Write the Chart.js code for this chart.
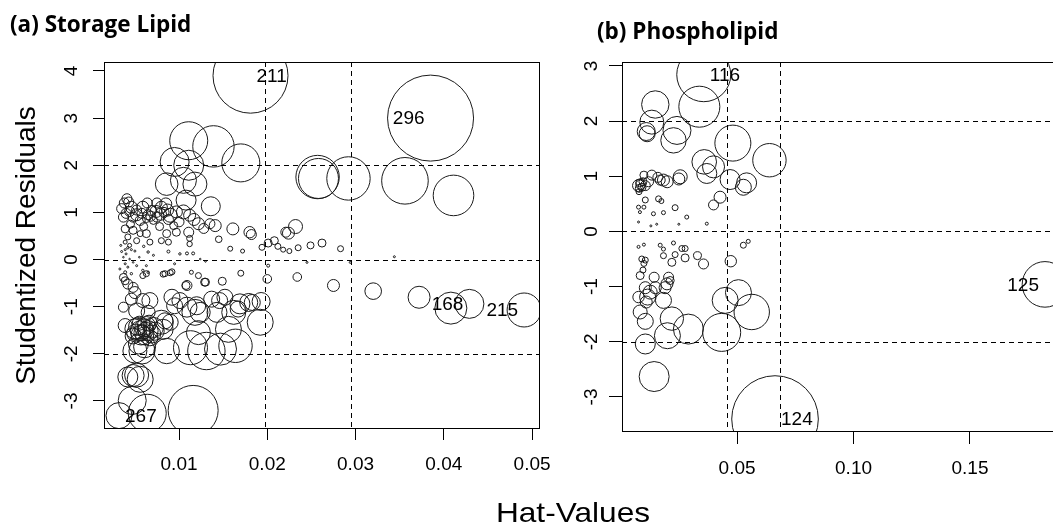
<!DOCTYPE html>
<html>
<head>
<meta charset="utf-8">
<script src="https://cdn.jsdelivr.net/npm/chart.js@4.4.1/dist/chart.umd.min.js"></script>
<style>
  body { margin: 0; width: 1053px; height: 524px; overflow: hidden; background: #fff; position: relative; }
  canvas { position: absolute; top: 0; }
  .panel-title { position: absolute; font: bold 22.5px 'Open Sans', Lato, sans-serif; line-height: 22.5px; color: #000; white-space: nowrap; }
  #xtitle { position: absolute; left: 573px; top: 499px; transform: translateX(-50%) scaleX(1.13); font: 28px 'Liberation Sans', Arial, sans-serif; line-height: 28px; color: #000; white-space: nowrap; }
</style>
</head>
<body>
<canvas id="chartA" width="560" height="524" style="left:0"></canvas>
<canvas id="chartB" width="505" height="524" style="left:550px"></canvas>
<div class="panel-title" style="left:10px; top:13px">(a) Storage Lipid</div>
<div class="panel-title" style="left:597px; top:20px">(b) Phospholipid</div>
<div id="xtitle">Hat-Values</div>
<script>
// (a) Storage Lipid: hat-values, studentized residuals, bubble radius (Cook's D)
const hatA = [
  0.0181,0.0385,0.0429,0.0491,0.0032,0.0408,0.0372,0.0320,0.0275,0.0234,
  0.0200,0.0411,0.0356,0.0292,0.0258,0.0257,0.0111,0.0139,0.0170,0.0095,
  0.0111,0.0086,0.0105,0.0118,0.0108,0.0136,0.0161,0.0180,0.0182,0.0232,
  0.0224,0.0221,0.0208,0.0201,0.0194,0.0212,0.0218,0.0225,0.0235,0.0249,
  0.0262,0.0283,0.0172,0.0158,0.0145,0.0112,0.0344,0.0294,0.0245,0.0201,
  0.0193,0.0192,0.0170,0.0149,0.0129,0.0122,0.0108,0.0114,0.0064,0.0047,
  0.0116,0.0042,0.0048,0.0056,0.0052,0.0058,0.0086,0.0113,0.0131,0.0147,
  0.0164,0.0122,0.0156,0.0162,0.0118,0.0146,0.0152,0.0169,0.0183,0.0092,
  0.0095,0.0109,0.0084,0.0082,0.0039,0.0052,0.0067,0.0065,0.0037,0.0050,
  0.0056,0.0065,0.0071,0.0061,0.0067,0.0054,0.0080,0.0090,0.0101,0.0120,
  0.0124,0.0143,0.0167,0.0179,0.0137,0.0109,0.0130,0.0037,0.0039,0.0042,
  0.0048,0.0059,0.0063,0.0082,0.0090,0.0050,0.0046,0.0059,0.0060,0.0058,
  0.0063,0.0069,0.0055,0.0048,0.0050,0.0061,0.0041,0.0043,0.0035,0.0046,
  0.0059,0.0069,0.0080,0.0083,0.0090,0.0097,0.0105,0.0112,0.0122,0.0135,
  0.0141,0.0128,0.0111,0.0097,0.0086,0.0088,0.0080,0.0112,0.0037,0.0048,
  0.0056,0.0063,0.0071,0.0039,0.0048,0.0056,0.0063,0.0042,0.0052,0.0067,
  0.0039,0.0044,0.0052,0.0065,0.0075,0.0088,0.0100,0.0117,0.0078,0.0060,
  0.0045,0.0094,0.0085,0.0075,0.0064,0.0035,0.0039,0.0042,0.0046,0.0050,
  0.0040,0.0037,0.0044,0.0048,0.0039,0.0042,0.0052,0.0065,0.0071,0.0088,
  0.0101,0.0109,0.0116,0.0124,0.0130,0.0095,0.0063,0.0059,0.0065,0.0084,
  0.0092,0.0039,0.0033,0.0046,0.0055,0.0060,0.0034,0.0053,0.0057,0.0062,
  0.0066,0.0073,0.0051,0.0038,0.0044,0.0040,0.0052,0.0058,0.0068,0.0074,
  0.0079,0.0087
];
const residA = [
  3.90,3.00,-0.94,-1.07,-3.31,-1.03,-0.80,-0.67,-0.55,-0.37,
  -0.41,1.36,1.67,1.72,1.72,1.75,2.52,2.40,2.05,2.07,
  2.00,1.60,1.68,1.60,1.26,1.13,0.65,0.58,0.53,0.70,
  0.56,0.58,0.40,0.35,0.26,0.28,0.21,0.18,0.25,0.30,
  0.35,0.23,0.18,0.23,0.43,0.33,0.06,-0.06,-0.06,-0.13,
  -0.89,-1.33,-0.29,-0.46,-0.48,-0.34,-0.55,-0.27,-3.26,-2.99,
  -3.20,-2.49,-2.46,-2.54,-2.45,-1.94,-1.94,-1.87,-1.94,-1.90,
  -1.83,-1.55,-1.48,-1.12,-1.12,-0.87,-0.80,-0.94,-0.91,-0.80,
  -0.98,-1.01,-1.30,-1.48,-1.40,-1.09,-0.87,-1.12,-1.01,-1.47,
  -1.51,-1.51,-1.44,-1.62,-1.66,-1.79,-1.33,-1.33,-0.87,-0.98,
  -1.12,-1.12,-1.05,-0.91,-0.84,-0.55,-0.48,-0.38,-0.45,-0.52,
  -0.59,-0.34,-0.30,-0.31,-0.28,-0.70,-0.84,-0.87,-1.45,-1.55,
  -1.40,-1.58,-1.35,-1.62,-1.94,-1.85,1.29,1.22,1.08,1.11,
  1.11,1.04,1.11,1.00,0.94,1.01,1.01,0.94,0.76,0.76,
  0.72,0.66,0.58,0.58,0.55,0.37,0.40,0.45,0.90,0.90,
  0.83,0.87,0.83,0.65,0.62,0.55,0.55,0.48,0.40,0.37,
  0.37,0.30,0.95,0.95,0.90,0.85,0.80,0.85,0.70,0.70,
  0.75,0.72,1.18,1.20,1.20,0.17,0.21,0.25,0.21,0.18,
  0.12,0.05,0.01,-0.06,-0.09,-0.16,-0.13,0.16,0.09,0.17,
  0.12,0.13,0.13,0.01,-0.04,-0.09,-0.13,-0.23,-0.27,-0.30,
  -0.26,-0.27,-0.20,-0.30,0.05,0.28,0.30,-1.42,-1.60,-1.50,
  -1.35,-1.52,-1.56,1.20,1.02,0.98,1.05,0.98,0.92,1.02,
  0.96,1.05
];
const sizeA = [
  37.5,43,14.5,17,13,16,11,8.3,6,4.3,
  4.3,20.3,23.3,21.7,20,21.7,19,20.7,19,14.5,
  15,11.3,13,12,10,9.5,6,5.7,5,7,
  6,5,4,4,3,3,2.5,2.5,3,3.5,
  4,3,2,2.5,3.3,2.7,1,1,1,1.5,
  9,13,3,4,4,3,4,2,19,14,
  25,10,11,13,12,13,12.7,17,18.7,16,
  16.7,12,13,12,13,8,8,10,8,8,
  8,10,8,10,7,8,8,7,5,10,
  10,10,10,9,8,10,12,8,8,9,
  10,10,8,9,8,5,4,4,4,5,
  5,3,3,3,3,6,6,7,9,8,
  9,9,7,8,12,11,5,5,5,6,
  6,5,6,5,7,6,7,6,6,5,
  6,5,5,4,4,3,3,3,5,5,
  5,4,4,4,4,3,4,3,3,3,
  2,2,6,5,5,5,5,6,4,4,
  4,4,6,5,5,1,1,1.2,1,1,
  1,0.8,0.8,0.8,1,1,1,1.2,1,1.5,
  1.2,1.5,1.5,0.8,0.8,1,1,1.2,1.2,3,
  3,1.5,1,1.2,0.8,1.2,1,9,10,8,
  8,9,9,5,5,5,5,5,5,6,
  6,6
];
const idsA = ['211', '296', '168', '215', '267']; // labels of the first points
const refHatA = [0.0197, 0.0295];
const refResid = [-2, 0, 2];
const xTicksA = [0.01, 0.02, 0.03, 0.04, 0.05];
const xTickLabelsA = ['0.01', '0.02', '0.03', '0.04', '0.05'];
const yTicksA = [-3, -2, -1, 0, 1, 2, 3, 4];

// (b) Phospholipid
const hatB = [
  0.0357,0.0663,0.1822,0.0338,0.0149,0.0134,0.0110,0.0114,0.0242,0.0227,
  0.0482,0.0639,0.0359,0.0399,0.0370,0.0470,0.0541,0.0527,0.0427,0.0399,
  0.0256,0.0250,0.0184,0.0170,0.0134,0.0100,0.0077,0.0087,0.0106,0.0160,
  0.0120,0.0080,0.0200,0.0106,0.0163,0.0175,0.0077,0.0100,0.0141,0.0184,
  0.0234,0.0284,0.0370,0.0250,0.0077,0.0130,0.0155,0.0083,0.0077,0.0100,
  0.0170,0.0184,0.0227,0.0263,0.0277,0.0277,0.0184,0.0234,0.0220,0.0330,
  0.0356,0.0473,0.0527,0.0548,0.0091,0.0106,0.0100,0.0084,0.0096,0.0144,
  0.0206,0.0213,0.0199,0.0191,0.0149,0.0106,0.0127,0.0077,0.0116,0.0110,
  0.0184,0.0084,0.0106,0.0106,0.0144,0.0220,0.0201,0.0291,0.0434,0.0449,
  0.0506,0.0563,0.0082,0.0092,0.0096,0.0079
];
const residB = [
  2.84,-3.40,-0.96,2.26,2.30,1.98,1.81,1.77,1.83,1.65,
  1.60,1.29,1.26,1.17,1.05,0.94,0.88,0.80,0.62,0.48,
  0.99,0.95,0.93,0.93,1.02,1.02,0.83,0.85,0.83,0.98,
  0.90,0.78,0.90,0.57,0.59,0.55,0.44,0.44,0.32,0.34,
  0.43,0.26,0.14,0.13,0.17,0.10,0.13,0.35,-0.28,-0.24,
  -0.25,-0.32,-0.21,-0.31,-0.31,-0.48,-0.44,-0.42,-0.56,-0.44,
  -0.59,-0.54,-0.25,-0.18,-0.50,-0.52,-0.58,-0.80,-0.70,-0.83,
  -0.83,-0.89,-0.95,-1.02,-1.02,-1.02,-1.10,-1.19,-1.19,-1.28,
  -1.25,-1.46,-1.63,-2.04,-2.63,-1.58,-1.89,-1.77,-1.83,-1.25,
  -1.11,-1.46,0.88,0.80,0.90,0.72
];
const sizeB = [
  27,43.3,22.8,20.5,13.7,12,9,8,14,12.7,
  18,16.7,12.3,11,10,10,10,8,6,5,
  7,6,6,5,5,4,6,5,5,5,
  5,4,6,3,3,2.5,2,2,2,2,
  3,2,1.5,1,1,1,1,1.5,1.5,1.5,
  2,2,2,3,3,4,3,3,4,4,
  5,5.7,3,2,3,3,3,4,3,5,
  5,4,6,6,6,6,7,5.7,8,6,
  8,7,8,10,15,11.7,13,15,19,13,
  13,17.7,4,4,4,3
];
const idsB = ['116', '124', '125'];
const refHatB = [0.0455, 0.0685];
const xTicksB = [0.05, 0.10, 0.15];
const xTickLabelsB = ['0.05', '0.10', '0.15'];
const yTicksB = [-3, -2, -1, 0, 1, 2, 3];

const FONT = "'Liberation Sans', Arial, sans-serif";
Chart.defaults.font.family = FONT;
Chart.defaults.color = '#000';

// dashed cut-off lines, frame and point ids, like car::influencePlot
const influenceDecor = {
  id: 'influenceDecor',
  afterDatasetsDraw(chart, args, opts) {
    const { ctx, chartArea: a, scales: { x, y } } = chart;
    ctx.save();
    ctx.beginPath();
    ctx.rect(a.left, a.top, a.right - a.left, a.bottom - a.top);
    ctx.clip();
    ctx.strokeStyle = '#000';
    ctx.lineWidth = 1;
    ctx.setLineDash([5, 4]);
    opts.refX.forEach(v => {
      const px = Math.round(x.getPixelForValue(v)) + 0.5;
      ctx.beginPath(); ctx.moveTo(px, a.top); ctx.lineTo(px, a.bottom); ctx.stroke();
    });
    opts.refY.forEach(v => {
      const py = Math.round(y.getPixelForValue(v)) + 0.5;
      ctx.beginPath(); ctx.moveTo(a.left, py); ctx.lineTo(a.right, py); ctx.stroke();
    });
    ctx.setLineDash([]);
    ctx.font = '19px ' + FONT;
    ctx.fillStyle = '#000';
    ctx.textBaseline = 'middle';
    const meta = chart.getDatasetMeta(0);
    opts.ids.forEach((id, i) => {
      const pt = meta.data[i];
      const s = opts.side[i];
      ctx.textAlign = s > 0 ? 'left' : 'right';
      ctx.fillText(id, pt.x + s * 6, pt.y + 1);
    });
    ctx.restore();
    ctx.save();
    ctx.strokeStyle = '#000';
    ctx.lineWidth = 1;
    ctx.strokeRect(a.left + 0.5, a.top + 0.5, a.right - a.left - 1, a.bottom - a.top - 1);
    ctx.restore();
  }
};

function makeChart(id, cfg) {
  const points = cfg.hat.map((h, i) => ({ x: h, y: cfg.resid[i], r: cfg.size[i] }));
  return new Chart(document.getElementById(id), {
    type: 'bubble',
    data: {
      datasets: [{
        data: points,
        backgroundColor: 'rgba(0,0,0,0)',
        borderColor: '#1a1a1a',
        borderWidth: 1,
        hoverBorderWidth: 1,
        clip: 0
      }]
    },
    options: {
      responsive: false,
      animation: false,
      events: [],
      // no auto padding: big bubbles must not shrink the plot area
      layout: { autoPadding: false, padding: cfg.padding },
      plugins: {
        legend: { display: false },
        tooltip: { enabled: false },
        influenceDecor: { refX: cfg.refX, refY: refResid, ids: cfg.ids, side: cfg.side }
      },
      scales: {
        x: {
          type: 'linear',
          min: cfg.xMin, max: cfg.xMax,
          afterBuildTicks: s => { s.ticks = cfg.xTicks.map(v => ({ value: v })); },
          afterFit: s => { s.height = cfg.xHeight; s.paddingLeft = 0; s.paddingRight = 0; },
          ticks: {
            font: { size: 19 }, padding: 13, maxRotation: 0, autoSkip: false,
            callback: (v, i) => cfg.xLabels[i]
          },
          grid: { drawOnChartArea: false, tickLength: cfg.xTickLen, color: '#000', tickColor: '#000' },
          border: { display: false }
        },
        y: {
          type: 'linear',
          min: cfg.yMin, max: cfg.yMax,
          afterBuildTicks: s => { s.ticks = cfg.yTicks.map(v => ({ value: v })); },
          afterFit: s => { s.width = cfg.yWidth; s.paddingTop = 0; s.paddingBottom = 0; },
          ticks: {
            font: { size: 19 }, padding: cfg.yPad, minRotation: 90, maxRotation: 90,
            crossAlign: 'center', autoSkip: false,
            callback: v => String(v)
          },
          grid: { drawOnChartArea: false, tickLength: cfg.yTickLen, color: '#000', tickColor: '#000' },
          border: { display: false },
          title: cfg.yTitle
        }
      }
    },
    plugins: [influenceDecor]
  });
}

makeChart('chartA', {
  hat: hatA, resid: residA, size: sizeA, ids: idsA, side: [1, -1, -1, -1, 1],
  refX: refHatA, xTicks: xTicksA, xLabels: xTickLabelsA, yTicks: yTicksA,
  xMin: 0.0015, xMax: 0.0509, yMin: -3.594, yMax: 4.19,
  padding: { top: 62, right: 20, left: 0, bottom: 0 },
  xHeight: 95, yWidth: 104, xTickLen: 11, yTickLen: 11, yPad: 12.5,
  yTitle: { display: true, text: 'Studentized Residuals', font: { size: 28 }, padding: { top: 10.5, bottom: 0 } }
});

makeChart('chartB', {
  hat: hatB, resid: residB, size: sizeB, ids: idsB, side: [1, 1, -1],
  refX: refHatB, xTicks: xTicksB, xLabels: xTickLabelsB, yTicks: yTicksB,
  xMin: 0.0006, xMax: 0.1865, yMin: -3.635, yMax: 3.07,
  padding: { top: 62, right: 0, left: 0, bottom: 0 },
  xHeight: 92, yWidth: 72, xTickLen: 12, yTickLen: 13, yPad: 8.5,
  yTitle: { display: false }
});
</script>
</body>
</html>
